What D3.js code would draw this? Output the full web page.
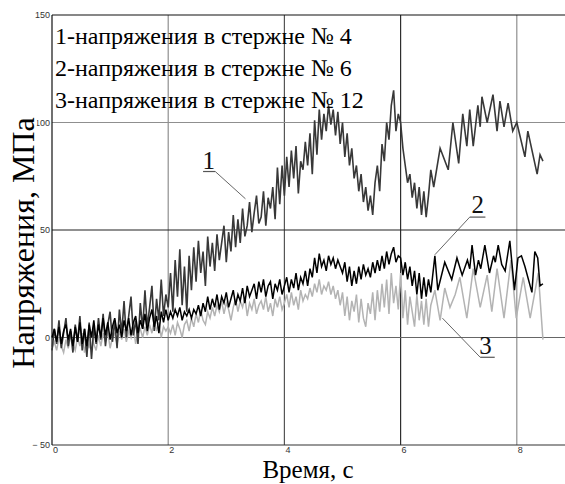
<!DOCTYPE html>
<html><head><meta charset="utf-8">
<script src="https://cdn.jsdelivr.net/npm/d3@7"></script>
<style>body{margin:0;background:#fff}svg{display:block}</style>
</head><body>
<svg id="chart" width="565" height="484"></svg>
<script>
// ---------- data ----------
const xTicks = [0, 2, 4, 6, 8];
const xTickLabels = ["0", "2", "4", "6", "8"];
const yTicks = [-50, 0, 50, 100, 150];
const yTickLabels = ["\u2212 50", "0", "50", "100", "150"];
const xTitle = "Время, с";
const yTitle = "Напряжения, МПа";
const legendLines = [
  "1-напряжения в стержне № 4",
  "2-напряжения в стержне № 6",
  "3-напряжения в стержне № 12"
];
// series: [time (s), stress (MPa)]
const series1 = [
[0.00,-6],[0.04,4],[0.08,-3],[0.12,8],[0.16,-5],[0.20,2],[0.24,9],[0.28,-4],[0.32,3],[0.36,-7],
[0.40,6],[0.44,-2],[0.48,10],[0.52,-6],[0.56,4],[0.60,-9],[0.64,7],[0.68,-10],[0.72,5],[0.76,-3],
[0.80,9],[0.84,-1],[0.88,11],[0.92,-4],[0.96,6],[1.00,12],[1.04,-2],[1.08,8],[1.12,-5],[1.16,13],
[1.20,2],[1.24,17],[1.28,0],[1.32,10],[1.36,19],[1.40,1],[1.44,8],[1.48,-3],[1.52,16],[1.56,4],
[1.60,22],[1.64,5],[1.68,14],[1.72,24],[1.76,3],[1.80,18],[1.84,8],[1.88,27],[1.92,10],[1.96,20],
[2.00,14],[2.04,30],[2.08,12],[2.12,36],[2.16,19],[2.20,41],[2.24,15],[2.28,33],[2.32,12],[2.36,38],
[2.40,22],[2.44,42],[2.48,26],[2.52,45],[2.56,30],[2.60,40],[2.64,24],[2.68,47],[2.72,33],[2.76,44],
[2.80,31],[2.84,48],[2.88,36],[2.92,44],[2.96,52],[3.00,35],[3.04,49],[3.08,40],[3.12,57],[3.16,42],
[3.20,55],[3.24,44],[3.28,60],[3.32,47],[3.36,52],[3.40,63],[3.44,49],[3.48,58],[3.52,66],[3.56,53],
[3.60,56],[3.64,68],[3.68,52],[3.72,65],[3.76,60],[3.80,70],[3.84,55],[3.88,79],[3.92,62],[3.96,80],
[4.00,66],[4.04,84],[4.08,70],[4.12,87],[4.16,74],[4.20,89],[4.24,67],[4.28,82],[4.32,78],[4.36,91],
[4.40,80],[4.44,95],[4.48,76],[4.52,101],[4.56,85],[4.60,106],[4.64,92],[4.68,104],[4.72,96],[4.76,108],
[4.80,99],[4.84,106],[4.88,94],[4.92,105],[4.96,90],[5.00,100],[5.04,84],[5.08,95],[5.12,80],[5.16,88],
[5.20,74],[5.24,80],[5.28,68],[5.32,76],[5.36,63],[5.40,70],[5.44,59],[5.48,66],[5.52,57],[5.56,72],
[5.60,80],[5.64,68],[5.68,90],[5.72,82],[5.76,100],[5.80,92],[5.84,108],[5.88,115],[5.92,96],[5.96,104],
[6.00,100],[6.04,88],[6.08,80],[6.12,72],[6.16,76],[6.20,65],[6.24,72],[6.28,60],[6.32,70],[6.36,57],
[6.40,68],[6.44,56],[6.48,66],[6.52,78],[6.57,70],[6.68,88],[6.82,78],[6.90,100],[7.00,81],[7.07,104],
[7.14,89],[7.19,106],[7.25,89],[7.33,108],[7.37,98],[7.40,112],[7.49,100],[7.59,113],[7.66,96],[7.71,110],
[7.78,98],[7.85,109],[7.93,96],[8.00,100],[8.14,84],[8.19,96],[8.35,76],[8.40,85],[8.45,82]
];
const series2 = [
[0.00,0],[0.04,4],[0.08,-2],[0.12,5],[0.16,-3],[0.20,3],[0.24,6],[0.28,-1],[0.32,4],[0.36,-4],
[0.40,5],[0.44,-2],[0.48,7],[0.52,-3],[0.56,4],[0.60,-4],[0.64,6],[0.68,0],[0.72,8],[0.76,-2],
[0.80,6],[0.84,0],[0.88,9],[0.92,1],[0.96,7],[1.00,-1],[1.04,5],[1.08,9],[1.12,2],[1.16,6],
[1.20,0],[1.24,8],[1.28,3],[1.32,9],[1.36,1],[1.40,7],[1.44,10],[1.48,2],[1.52,8],[1.56,4],
[1.60,11],[1.64,3],[1.68,9],[1.72,13],[1.76,5],[1.80,10],[1.84,2],[1.88,12],[1.92,7],[1.96,13],
[2.00,8],[2.04,12],[2.08,9],[2.12,13],[2.16,10],[2.20,14],[2.24,8],[2.28,12],[2.32,10],[2.36,13],
[2.40,9],[2.44,13],[2.48,11],[2.52,15],[2.56,10],[2.60,16],[2.64,12],[2.68,19],[2.72,13],[2.76,18],
[2.80,14],[2.84,20],[2.88,13],[2.92,19],[2.96,16],[3.00,21],[3.04,14],[3.08,18],[3.12,22],[3.16,15],
[3.20,20],[3.24,17],[3.28,23],[3.32,16],[3.36,24],[3.40,19],[3.44,22],[3.48,25],[3.52,18],[3.56,26],
[3.60,21],[3.64,27],[3.68,19],[3.72,24],[3.76,26],[3.80,18],[3.84,25],[3.88,22],[3.92,27],[3.96,20],
[4.00,24],[4.04,28],[4.08,21],[4.12,27],[4.16,23],[4.20,30],[4.24,22],[4.28,28],[4.32,25],[4.36,31],
[4.40,24],[4.44,32],[4.48,28],[4.52,37],[4.56,30],[4.60,39],[4.64,33],[4.68,36],[4.72,31],[4.76,38],
[4.80,34],[4.84,37],[4.88,32],[4.92,36],[4.96,33],[5.00,30],[5.04,35],[5.08,26],[5.12,33],[5.16,24],
[5.20,31],[5.24,25],[5.28,33],[5.32,27],[5.36,34],[5.40,29],[5.44,32],[5.48,28],[5.52,35],[5.56,30],
[5.60,36],[5.64,31],[5.68,38],[5.72,32],[5.76,40],[5.80,34],[5.84,39],[5.88,42],[5.92,35],[5.96,38],
[6.00,37],[6.04,29],[6.08,35],[6.12,27],[6.16,33],[6.20,24],[6.24,31],[6.28,20],[6.32,30],[6.36,18],
[6.40,28],[6.44,19],[6.48,27],[6.52,21],[6.59,38],[6.64,22],[6.76,35],[6.88,27],[6.97,37],[7.06,29],
[7.15,36],[7.19,32],[7.23,43],[7.29,29],[7.34,36],[7.38,32],[7.45,43],[7.53,30],[7.60,38],[7.63,35],
[7.68,43],[7.74,34],[7.80,31],[7.88,45],[7.96,22],[8.02,37],[8.08,38],[8.14,33],[8.26,21],[8.31,40],
[8.36,37],[8.40,24],[8.45,25]
];
const series3 = [
[0.00,-5],[0.04,-2],[0.08,-6],[0.12,0],[0.16,-4],[0.20,-7],[0.24,-1],[0.28,-5],[0.32,1],[0.36,-3],
[0.40,-6],[0.44,0],[0.48,-4],[0.52,2],[0.56,-7],[0.60,-1],[0.64,-5],[0.68,3],[0.72,-3],[0.76,-6],
[0.80,1],[0.84,-4],[0.88,2],[0.92,-2],[0.96,3],[1.00,-5],[1.04,0],[1.08,2],[1.12,-3],[1.16,3],
[1.20,-1],[1.24,4],[1.28,-2],[1.32,3],[1.36,0],[1.40,5],[1.44,-3],[1.48,2],[1.52,4],[1.56,0],
[1.60,5],[1.64,1],[1.68,6],[1.72,2],[1.76,8],[1.80,3],[1.84,7],[1.88,0],[1.92,5],[1.96,3],
[2.00,5],[2.04,2],[2.08,6],[2.12,1],[2.16,7],[2.20,4],[2.24,0],[2.28,6],[2.32,8],[2.36,3],
[2.40,9],[2.44,5],[2.48,11],[2.52,7],[2.56,13],[2.60,8],[2.64,6],[2.68,12],[2.72,9],[2.76,14],
[2.80,10],[2.84,15],[2.88,12],[2.92,17],[2.96,11],[3.00,16],[3.04,13],[3.08,8],[3.12,14],[3.16,18],
[3.20,12],[3.24,17],[3.28,14],[3.32,19],[3.36,10],[3.40,16],[3.44,13],[3.48,18],[3.52,11],[3.56,15],
[3.60,17],[3.64,13],[3.68,19],[3.72,12],[3.76,16],[3.80,10],[3.84,18],[3.88,14],[3.92,19],[3.96,13],
[4.00,16],[4.04,20],[4.08,14],[4.12,21],[4.16,15],[4.20,19],[4.24,13],[4.28,22],[4.32,17],[4.36,20],
[4.40,18],[4.44,23],[4.48,19],[4.52,25],[4.56,21],[4.60,27],[4.64,20],[4.68,24],[4.72,22],[4.76,26],
[4.80,20],[4.84,24],[4.88,18],[4.92,22],[4.96,15],[5.00,21],[5.04,10],[5.08,19],[5.12,8],[5.16,17],
[5.20,12],[5.24,20],[5.28,7],[5.32,18],[5.36,9],[5.40,5],[5.44,16],[5.48,11],[5.52,21],[5.56,8],
[5.60,22],[5.64,12],[5.68,25],[5.72,14],[5.76,27],[5.80,11],[5.84,30],[5.88,16],[5.92,24],[5.96,13],
[6.00,30],[6.04,9],[6.08,22],[6.12,6],[6.16,19],[6.20,12],[6.24,5],[6.28,20],[6.32,8],[6.36,17],
[6.40,6],[6.44,18],[6.48,5],[6.52,15],[6.59,22],[6.68,8],[6.76,23],[6.85,14],[6.94,20],[7.02,28],
[7.14,9],[7.25,32],[7.37,14],[7.49,29],[7.57,12],[7.66,32],[7.78,9],[7.90,36],[7.99,9],[8.11,28],
[8.23,9],[8.37,30],[8.45,-1]
];
// annotation anchors in data units
const annotations = [
  {label:"1", t:2.70, v:78.5, u0:2.60, u1:2.81, uv:77.2, lt:3.33, lv:64.5, side:"right"},
  {label:"2", t:7.33, v:57.8, u0:7.19, u1:7.46, uv:56.0, lt:6.59, lv:38.5, side:"left"},
  {label:"3", t:7.46, v:-7.6, u0:7.37, u1:7.62, uv:-9.2, lt:6.72, lv:9.0, side:"left"}
];

// ---------- drawing ----------
const svg = d3.select("#chart");
const W = 565, H = 484;
const x = d3.scaleLinear().domain([0, 10]).range([52, 633]);
const y = d3.scaleLinear().domain([-50, 150]).range([445, 15]);
const serif = "Liberation Serif, Tinos, DejaVu Serif, serif";
const small = "Liberation Sans, Arimo, DejaVu Sans, sans-serif";

svg.append("rect").attr("width", W).attr("height", H).attr("fill", "#fff");

// grid
const vGridColor = {2:"#8f8f8f", 4:"#555", 6:"#2e2e2e", 8:"#8f8f8f"};
const hGridColor = {0:"#666", 50:"#222", 100:"#8f8f8f"};
svg.append("g").selectAll("line").data(xTicks.filter(d => d > 0)).join("line")
  .attr("x1", d => x(d)).attr("x2", d => x(d))
  .attr("y1", y(150)).attr("y2", y(-50))
  .attr("stroke", d => vGridColor[d]).attr("stroke-width", 1.2);
svg.append("g").selectAll("line").data(yTicks.filter(d => d > -50 && d < 150)).join("line")
  .attr("x1", x(0)).attr("x2", W)
  .attr("y1", d => y(d)).attr("y2", d => y(d))
  .attr("stroke", d => hGridColor[d]).attr("stroke-width", 1.2);

// frame
svg.append("line").attr("x1", x(0)).attr("x2", W).attr("y1", y(150)).attr("y2", y(150)).attr("stroke", "#111").attr("stroke-width", 1.2);
svg.append("line").attr("x1", x(0)).attr("x2", W).attr("y1", y(-50)).attr("y2", y(-50)).attr("stroke", "#333").attr("stroke-width", 1.2);
svg.append("line").attr("x1", x(0)).attr("x2", x(0)).attr("y1", y(150)).attr("y2", y(-50)).attr("stroke", "#111").attr("stroke-width", 1.2);

// tick labels
svg.append("g").selectAll("text").data(xTicks).join("text")
  .attr("x", d => x(d) + 1).attr("y", y(-50) + 8)
  .attr("font-family", small).attr("font-size", 9).attr("fill", "#333")
  .text((d, i) => xTickLabels[i]);
svg.append("g").selectAll("text").data(yTicks).join("text")
  .attr("x", x(0) - 2).attr("y", d => y(d) + 3)
  .attr("text-anchor", "end")
  .attr("font-family", small).attr("font-size", 9).attr("fill", "#333")
  .text((d, i) => yTickLabels[i]);

// series
const line = d3.line().x(d => x(d[0])).y(d => y(d[1]));
const seriesList = [
  {data: series3, color: "#b3b3b3", w: 1.5},
  {data: series1, color: "#383838", w: 1.6},
  {data: series2, color: "#000", w: 1.5}
];
svg.append("g").selectAll("path").data(seriesList).join("path")
  .attr("d", d => line(d.data)).attr("fill", "none")
  .attr("stroke", d => d.color).attr("stroke-width", d => d.w).attr("stroke-linejoin", "miter");

// annotations
annotations.forEach(a => {
  const g = svg.append("g");
  g.append("line").attr("x1", x(a.u0)).attr("x2", x(a.u1)).attr("y1", y(a.uv)).attr("y2", y(a.uv))
    .attr("stroke", "#555").attr("stroke-width", 1.2);
  const sx = a.side === "right" ? x(a.u1) : x(a.u0);
  g.append("line").attr("x1", sx).attr("y1", y(a.uv)).attr("x2", x(a.lt)).attr("y2", y(a.lv))
    .attr("stroke", "#555").attr("stroke-width", 0.9);
  g.append("text").attr("x", x(a.t)).attr("y", y(a.v)).attr("text-anchor", "middle")
    .attr("font-family", serif).attr("font-size", 25).attr("fill", "#111").text(a.label);
});

// legend text
svg.append("g").selectAll("text").data(legendLines).join("text")
  .attr("x", x(0) + 3).attr("y", (d, i) => 44 + i * 32)
  .attr("font-family", serif).attr("font-size", 24).attr("fill", "#000")
  .text(d => d);

// axis titles
svg.append("text").attr("x", 308).attr("y", 478).attr("text-anchor", "middle")
  .attr("font-family", serif).attr("font-size", 25).attr("fill", "#000").text(xTitle);
svg.append("text").attr("transform", "translate(34,243) rotate(-90)").attr("text-anchor", "middle")
  .attr("font-family", serif).attr("font-size", 32).attr("fill", "#000")
  .attr("stroke", "#fff").attr("stroke-width", 6).attr("paint-order", "stroke")
  .text(yTitle);
</script>
</body></html>
